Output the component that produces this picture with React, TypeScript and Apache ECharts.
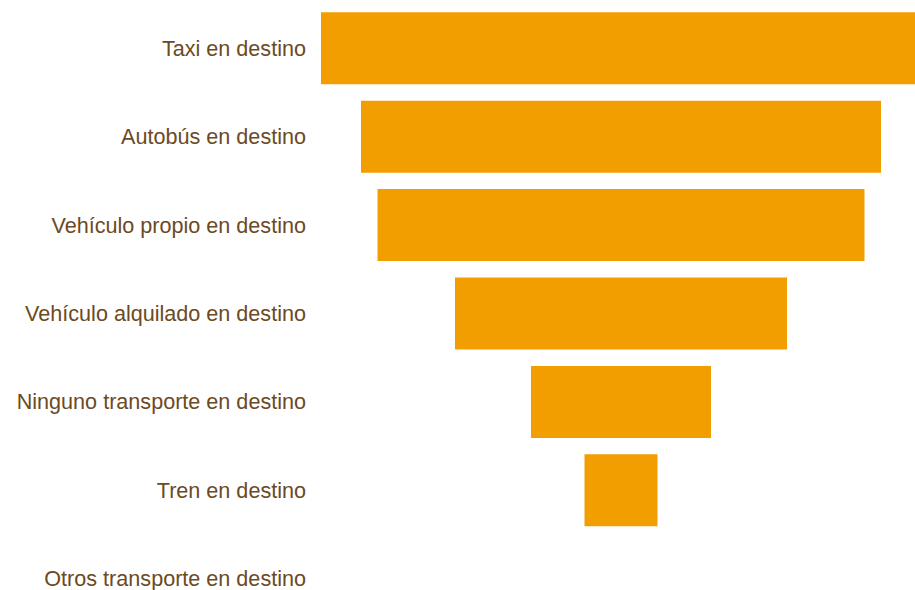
import React, { useEffect, useRef } from "react";
import * as echarts from "echarts";

const categories = [
  "Taxi en destino",
  "Autobús en destino",
  "Vehículo propio en destino",
  "Vehículo alquilado en destino",
  "Ninguno transporte en destino",
  "Tren en destino",
  "Otros transporte en destino",
];
const values = [30.0, 26.0, 24.35, 16.6, 9.0, 3.65, 0];
const axisMax = 30;

export default function App() {
  const ref = useRef<HTMLDivElement>(null);
  useEffect(() => {
    if (!ref.current) return;
    const chart = echarts.init(ref.current, undefined, { renderer: "svg" });
    const spacer = values.map((v) => (axisMax - v) / 2);
    chart.setOption({
      animation: false,
      grid: {
        left: 321,
        top: 4,
        width: 600,
        height: 619,
        containLabel: false,
        outerBoundsMode: "none",
      },
      xAxis: { type: "value", min: 0, max: axisMax, show: false },
      yAxis: {
        type: "category",
        data: categories,
        inverse: true,
        axisLine: { show: false },
        axisTick: { show: false },
        splitLine: { show: false },
        axisLabel: {
          margin: 15,
          color: "#6B4A24",
          fontFamily: "'Liberation Sans', Arial, sans-serif",
          fontSize: 21.6,
        },
      },
      series: [
        {
          type: "bar",
          stack: "f",
          data: spacer,
          itemStyle: { color: "transparent" },
          barWidth: 72,
          silent: true,
        },
        {
          type: "bar",
          stack: "f",
          data: values,
          itemStyle: { color: "#F39E00" },
          barWidth: 72,
        },
      ],
    });
    return () => chart.dispose();
  }, []);
  return (
    <div style={{ position: "absolute", left: 0, top: 0, width: 915, height: 590, overflow: "hidden" }}>
      <div ref={ref} style={{ width: 930, height: 630 }} />
    </div>
  );
}
